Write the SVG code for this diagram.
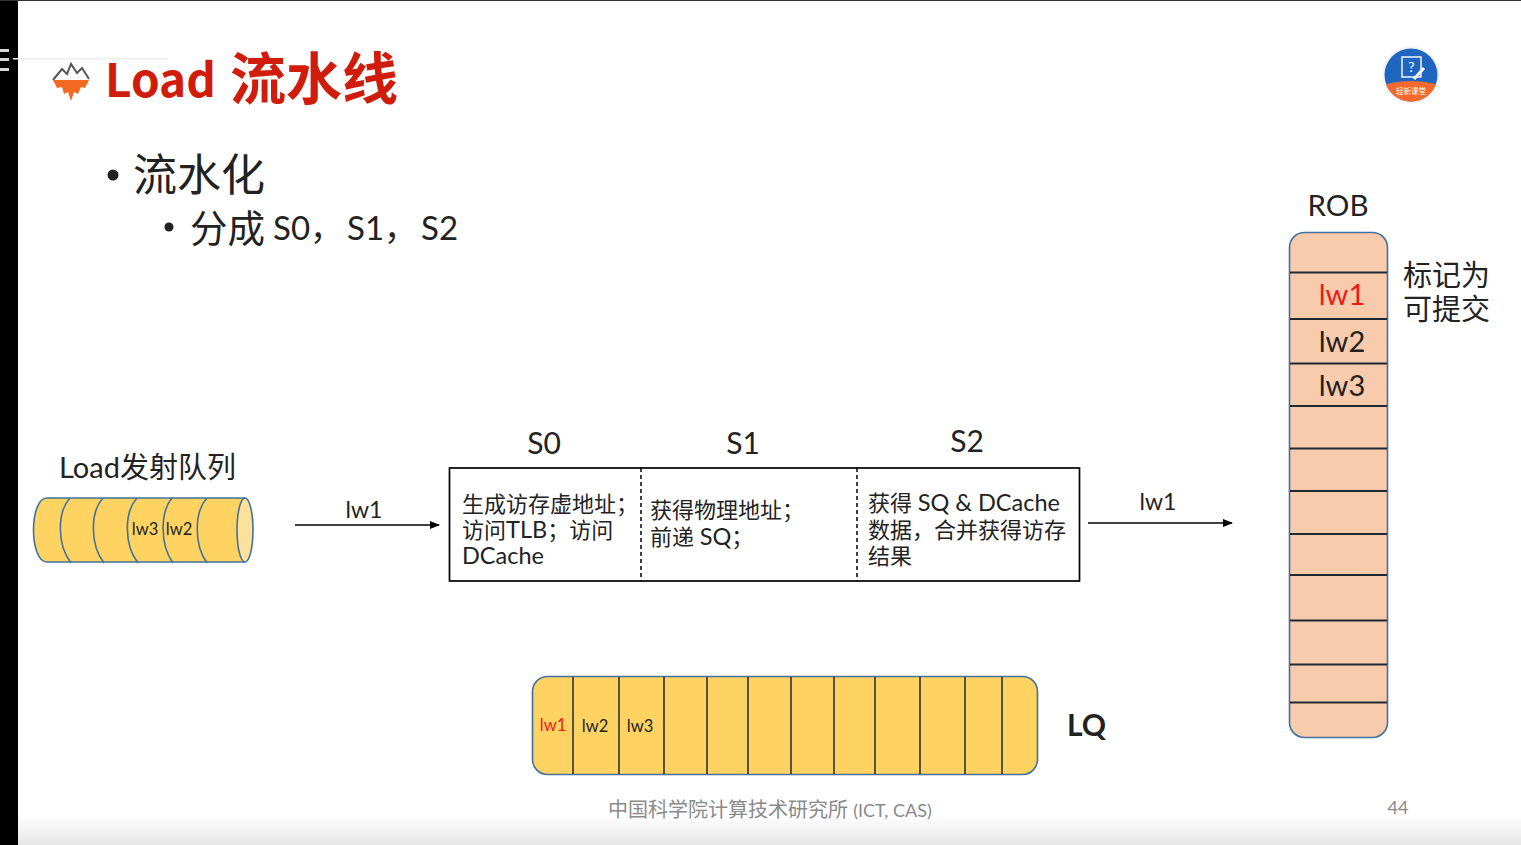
<svg xmlns="http://www.w3.org/2000/svg" width="1521" height="845" viewBox="0 0 1521 845">
<defs>
<linearGradient id="bot" x1="0" y1="0" x2="0" y2="1"><stop offset="0" stop-color="#fff"/><stop offset="1" stop-color="#e6e6e6"/></linearGradient>
<marker id="arr" markerWidth="10" markerHeight="8" refX="9" refY="4" orient="auto" markerUnits="userSpaceOnUse"><path d="M0 0L10 4L0 8Z" fill="#000"/></marker>
</defs>
<style>
text{font-family:Lato,"Noto Sans CJK SC",sans-serif;fill:#222}
.cjk{font-family:"Noto Sans CJK SC","Liberation Sans",sans-serif}
.rob{font-size:29px;text-anchor:middle}
.q{font-size:16.500px;text-anchor:middle}
.body{font-size:22px}
.curve{fill:none;stroke:#41719c;stroke-width:1.6}
.conn{stroke:#000;stroke-width:1.5;fill:none;marker-end:url(#arr)}
.dash{stroke:#000;stroke-width:1.5;stroke-dasharray:4 3}
</style>
<rect width="1521" height="845" fill="#fff"/>
<rect y="815" width="1521" height="30" fill="url(#bot)"/>
<rect width="18" height="845" fill="#000"/>
<rect width="1521" height="1" fill="#333"/>
<g id="osd" fill="#d8d8d8"><rect x="0" y="49" width="9" height="3"/><rect x="0" y="58" width="9" height="3"/><rect x="0" y="68" width="9" height="3"/><rect x="13" y="58" width="155" height="1.500" fill="#efefef"/></g>
<g id="logo">
<path d="M53 80L62 69L67 74L71 64L77 73L82 68L89 79" fill="none" stroke="#555" stroke-width="2"/>
<path d="M53 80H89L85 88L81 87L78 94L74 92L71 101L68 92L64 94L62 87L57 88Z" fill="#f26a21"/>
</g>
<g id="title">
<text x="105" y="97" font-size="46" font-weight="700" style="fill:#d01c0a" class="cjk">Load</text>
<text x="230" y="99" font-size="56" font-weight="700" style="fill:#d01c0a" class="cjk">流水线</text>
</g>
<g id="bullets">
<circle cx="113" cy="175" r="5.500" fill="#222"/>
<text x="133" y="191" font-size="44">流水化</text>
<circle cx="169" cy="227" r="4.500" fill="#222"/>
<text x="190" y="242" font-size="37.500">分成</text>
<text y="240" font-size="33" xml:space="preserve"><tspan x="273">S0，</tspan><tspan x="347">S1，</tspan><tspan x="421">S2</tspan></text>
</g>
<g id="badge">
<circle cx="1411" cy="75" r="29" fill="#f4f4f4"/>
<circle cx="1411" cy="75" r="26.500" fill="#1f66c1"/>
<path d="M1386 84Q1411 78 1436 84A26.500 26.500 0 0 1 1386 84Z" fill="#f4692e"/>
<rect x="1402" y="57" width="19" height="20" fill="none" stroke="#fff" stroke-width="1.400"/>
<path d="M1414 79L1424 68" stroke="#fff" stroke-width="3"/>
<text x="1411.500" y="72" font-size="14" text-anchor="middle" style="fill:#fff">?</text>
<text x="1411" y="94" font-size="7.500" text-anchor="middle" class="cjk" style="fill:#fff">轻新课堂</text>
</g>
<g id="rob">
<text x="1338" y="216" font-size="29.500" text-anchor="middle">ROB</text>
<rect x="1289.500" y="232.500" width="98" height="505" rx="15" fill="#f8cbad" stroke="#41719c" stroke-width="1.600"/>
<g stroke="#1d2a33" stroke-width="1.800">
<line x1="1290" x2="1387" y1="272.500" y2="272.500"/><line x1="1290" x2="1387" y1="319" y2="319"/><line x1="1290" x2="1387" y1="363.500" y2="363.500"/><line x1="1290" x2="1387" y1="406" y2="406"/><line x1="1290" x2="1387" y1="448.500" y2="448.500"/><line x1="1290" x2="1387" y1="491" y2="491"/><line x1="1290" x2="1387" y1="534" y2="534"/><line x1="1290" x2="1387" y1="575" y2="575"/><line x1="1290" x2="1387" y1="620.500" y2="620.500"/><line x1="1290" x2="1387" y1="664.500" y2="664.500"/><line x1="1290" x2="1387" y1="702.500" y2="702.500"/>
</g>
<text x="1342" y="305" class="rob" style="fill:#f01818">lw1</text>
<text x="1342" y="352" class="rob">lw2</text>
<text x="1342" y="396" class="rob">lw3</text>
</g>
<g id="rob-note" font-size="29"><text x="1403" y="286">标记为</text><text x="1403" y="320">可提交</text></g>
<g id="issue-queue">
<text x="59" y="478" font-size="29">Load发射队列</text>
<path d="M47 498H245C236 505 237 558 245 562H47C29 562 29 498 47 498Z" fill="#ffd362"/>
<ellipse cx="245" cy="530" rx="8" ry="32" fill="#fee19b"/>
<path d="M47 498H245M47 562H245M47 498C29 498 29 562 47 562" class="curve"/>
<ellipse cx="245" cy="530" rx="8" ry="32" class="curve"/>
<path d="M70 498C57 512 57 545 71 563M103 498C90 512 90 545 104 563M137 498C124 512 124 545 138 563M172 498C160 512 160 545 173 563M207 498C194 512 194 545 207 563" class="curve"/>
<text x="145" y="535" class="q">lw3</text>
<text x="179" y="535" class="q">lw2</text>
</g>
<g id="pipeline">
<rect x="449.500" y="468" width="630" height="113" fill="#fff" stroke="#000" stroke-width="1.700"/>
<line x1="641" y1="468" x2="641" y2="581" class="dash"/>
<line x1="857" y1="468" x2="857" y2="581" class="dash"/>
<text x="544" y="454" font-size="30" text-anchor="middle">S0</text>
<text x="743" y="454" font-size="30" text-anchor="middle">S1</text>
<text x="967" y="452" font-size="30" text-anchor="middle">S2</text>
<text class="body" x="462" y="512">生成访存虚地址；</text><text class="body" x="462" y="538">访问<tspan font-size="23.500">TLB</tspan>；访问</text><text class="body" x="462" y="564"><tspan font-size="23.500">DCache</tspan></text>
<text class="body" x="650" y="518">获得物理地址；</text><text class="body" x="650" y="545">前递 <tspan font-size="23.500">SQ</tspan>；</text>
<text class="body" x="868" y="511">获得 <tspan font-size="23.500">SQ &amp; DCache</tspan></text><text class="body" x="868" y="538">数据，合并获得访存</text><text class="body" x="868" y="564">结果</text>
</g>
<g id="connectors">
<line x1="295" y1="525" x2="439" y2="525" class="conn"/>
<line x1="1088" y1="523" x2="1232" y2="523" class="conn"/>
</g>
<text x="364" y="518" font-size="23" text-anchor="middle">lw1</text>
<text x="1158" y="510" font-size="23" text-anchor="middle">lw1</text>
<g id="lq">
<rect x="532.500" y="676.500" width="505" height="98" rx="15" fill="#ffd362" stroke="#41719c" stroke-width="1.600"/>
<g stroke="#1d2a33" stroke-width="1.500">
<line x1="573" x2="573" y1="677" y2="774"/><line x1="619" x2="619" y1="677" y2="774"/><line x1="664" x2="664" y1="677" y2="774"/><line x1="707" x2="707" y1="677" y2="774"/><line x1="748" x2="748" y1="677" y2="774"/><line x1="791" x2="791" y1="677" y2="774"/><line x1="834" x2="834" y1="677" y2="774"/><line x1="875" x2="875" y1="677" y2="774"/><line x1="920" x2="920" y1="677" y2="774"/><line x1="965" x2="965" y1="677" y2="774"/><line x1="1002" x2="1002" y1="677" y2="774"/>
</g>
<text x="553" y="731" class="q" style="fill:#f01818">lw1</text>
<text x="595" y="732" class="q">lw2</text>
<text x="640" y="732" class="q">lw3</text>
<text x="1067" y="736" font-size="30" font-weight="700">LQ</text>
</g>
<g id="footer">
<text x="608" y="817" font-size="20" style="fill:#8a8a8a">中国科学院计算技术研究所 <tspan font-size="18">(ICT, CAS)</tspan></text>
<text x="1398" y="814" font-size="18" text-anchor="middle" style="fill:#8a8a8a">44</text>
</g>
</svg>
